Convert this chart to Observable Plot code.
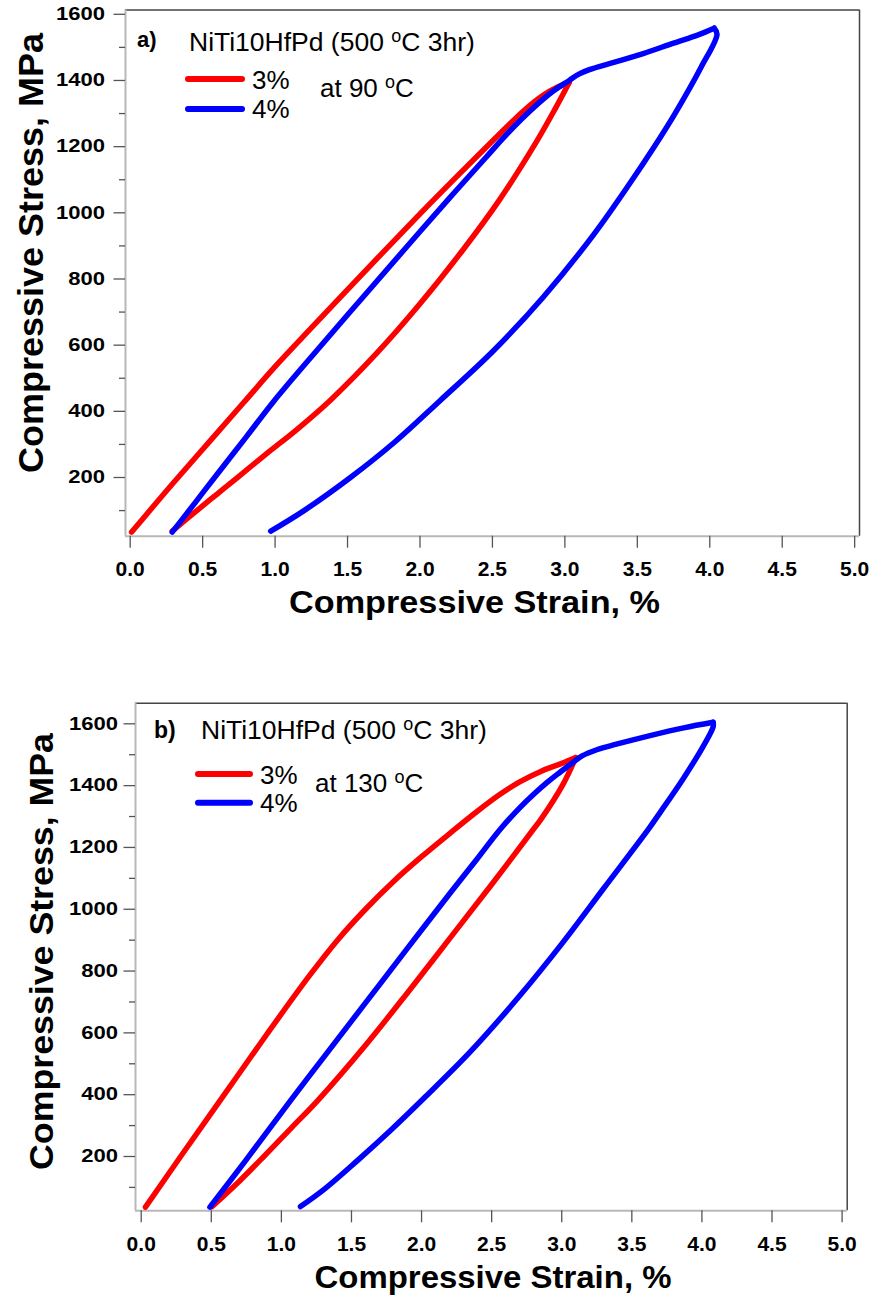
<!DOCTYPE html>
<html>
<head>
<meta charset="utf-8">
<script src="https://cdn.jsdelivr.net/npm/d3@7"></script>
<script src="https://cdn.jsdelivr.net/npm/@observablehq/plot@0.6"></script>
<style>
  body { margin: 0; background: #fff; }
  svg { display: block; }
</style>
</head>
<body>
<div id="chart"></div>
<script>
// ---- axis ticks ----
const strainTicks = [0, 0.5, 1, 1.5, 2, 2.5, 3, 3.5, 4, 4.5, 5];
const stressTicks = [200, 400, 600, 800, 1000, 1200, 1400, 1600];
const stressMinorTicks = [100, 300, 500, 700, 900, 1100, 1300, 1500];

const seriesNames = ["3%", "4%"];
const seriesColors = ["#ff0000", "#0000ff"];

// ---- a) tested at 90 °C : [strain %, stress MPa] ----
const load90_3 = [[0.01,35],[0.15,108],[0.3,185],[0.55,310],[0.78,425],[1.0,535],[1.25,652],[1.5,768],[1.75,883],[2.0,997],[2.25,1108],[2.45,1195],[2.6,1260],[2.72,1310],[2.85,1355],[2.95,1380],[3.03,1394]];
const unload90_3 = [[3.03,1394],[2.93,1312],[2.8,1212],[2.55,1040],[2.3,890],[2.0,725],[1.7,575],[1.38,433],[1.15,345],[0.95,275],[0.74,200],[0.6,150],[0.46,100],[0.29,38]];
const load90_4 = [[0.29,35],[0.45,125],[0.6,210],[0.8,322],[0.99,430],[1.3,590],[1.6,742],[1.9,893],[2.2,1043],[2.45,1165],[2.6,1238],[2.78,1316],[2.92,1368],[3.03,1400],[3.1,1420],[3.2,1437],[3.35,1456],[3.54,1481],[3.75,1513],[3.92,1538],[4.03,1558]];
const unload90_4 = [[4.03,1558],[4.05,1540],[3.94,1440],[3.76,1300],[3.61,1195],[3.45,1090],[3.2,935],[2.85,745],[2.5,580],[2.14,433],[1.82,305],[1.52,200],[1.2,100],[0.97,38]];

// ---- b) tested at 130 °C ----
const load130_3 = [[0.03,36],[0.3,212],[0.6,405],[0.9,598],[1.2,785],[1.4,900],[1.6,1000],[1.8,1090],[2.0,1170],[2.2,1245],[2.4,1318],[2.56,1372],[2.7,1412],[2.85,1446],[3.0,1472],[3.1,1491]];
const unload130_3 = [[3.1,1491],[3.01,1405],[2.85,1290],[2.79,1254],[2.5,1080],[2.2,905],[1.9,730],[1.6,560],[1.267,385],[1.07,292],[0.875,200],[0.7,120],[0.506,38]];
const load130_4 = [[0.49,36],[0.75,190],[1.065,381],[1.3,520],[1.6,697],[1.9,874],[2.2,1050],[2.4,1165],[2.56,1258],[2.7,1328],[2.8,1372],[2.9,1412],[2.99,1444],[3.08,1475],[3.145,1496],[3.25,1516],[3.39,1534],[3.63,1562],[3.87,1587],[4.08,1605]];
const unload130_4 = [[4.08,1605],[4.08,1590],[4.01,1528],[3.87,1425],[3.7,1312],[3.62,1260],[3.3,1068],[3.0,888],[2.7,720],[2.35,540],[2.02,390],[1.78,285],[1.54,186],[1.3,92],[1.136,38]];

const FONT = "'Liberation Sans', Arial, Helvetica, sans-serif";

function rows(points, series, segment) {
  return points.map(([strain, stress], i) => ({strain, stress, series, segment, i}));
}

function baseText(g, x, y, size, weight) {
  return g.append("text")
    .attr("x", x).attr("y", y)
    .attr("text-anchor", "start")
    .attr("font-family", FONT).attr("font-size", size)
    .attr("font-weight", weight).attr("fill", "#000");
}

// text with a raised small "o" (degree sign as typeset in the figure)
function supText(g, x, y, size, before, sup, after, weight = "normal") {
  const t = baseText(g, x, y, size, weight);
  t.append("tspan").text(before);
  t.append("tspan").attr("font-size", 18).attr("dy", -9).text(sup);
  t.append("tspan").attr("dy", 9).text(after);
  return t;
}

function plainText(g, x, y, size, str, weight = "normal") {
  return baseText(g, x, y, size, weight).text(str);
}

function panel(cfg) {
  const data = [
    ...rows(cfg.load3, "3%", "l3"), ...rows(cfg.unload3, "3%", "u3"),
    ...rows(cfg.load4, "4%", "l4"), ...rows(cfg.unload4, "4%", "u4")
  ];
  const [x0, x1] = cfg.xDomain;
  const [y0, y1] = cfg.yDomain;
  const svg = Plot.plot({
    width: 873,
    height: cfg.height,
    marginTop: cfg.m.top, marginRight: cfg.m.right,
    marginBottom: cfg.m.bottom, marginLeft: cfg.m.left,
    style: {fontFamily: FONT, background: "#fff", overflow: "visible"},
    x: {domain: cfg.xDomain},
    y: {domain: cfg.yDomain},
    color: {domain: seriesNames, range: seriesColors},
    marks: [
      Plot.ruleY([y1], {stroke: "#454545", strokeWidth: 1.5}),
      Plot.ruleX([x1], {stroke: "#454545", strokeWidth: 1.5}),
      Plot.ruleY([y0], {stroke: "#b8b8b8", strokeWidth: 2}),
      Plot.ruleX([x0], {stroke: "#b8b8b8", strokeWidth: 2}),
      Plot.axisX({ticks: strainTicks, tickSize: 12, tickPadding: cfg.xPad,
        tickFormat: d3.format(".1f"), fontSize: 21, fontWeight: "bold",
        stroke: "#555", strokeWidth: 1.3, label: null}),
      Plot.axisY({ticks: stressTicks, tickSize: 11.5, tickPadding: cfg.yPad,
        tickFormat: d3.format("d"), fontSize: 18, fontWeight: "bold",
        stroke: "#555", strokeWidth: 1.3, label: null}),
      Plot.axisY({ticks: stressMinorTicks, tickSize: 6, tickFormat: () => "",
        stroke: "#555", strokeWidth: 1.3, label: null}),
      Plot.line(data, {x: "strain", y: "stress", z: "segment", stroke: "series",
        strokeWidth: 5.5, strokeLinecap: "round", strokeLinejoin: "round",
        curve: "catmull-rom"})
    ]
  });

  const g = d3.select(svg).append("g");
  // panel tag and alloy / heat treatment
  plainText(g, cfg.tag.x, cfg.tag.y, cfg.tag.size, cfg.tag.text, "bold");
  supText(g, cfg.title.x, cfg.title.y, 26.5, "NiTi10HfPd (500 ", "o", "C 3hr)");
  // legend swatches
  const L = cfg.legend;
  [[L.y3, seriesColors[0]], [L.y4, seriesColors[1]]].forEach(([y, c]) => {
    g.append("line").attr("x1", L.x1).attr("x2", L.x2).attr("y1", y).attr("y2", y)
      .attr("stroke", c).attr("stroke-width", 6).attr("stroke-linecap", "round");
  });
  plainText(g, L.tx, L.y3 + 9.5, 26, "3%");
  plainText(g, L.tx, L.y4 + 9, 26, "4%");
  supText(g, L.tempX, L.tempY, 26, "at " + cfg.temp + " ", "o", "C");

  // axis titles
  g.append("text")
    .attr("x", cfg.xTitle.x).attr("y", cfg.xTitle.y)
    .attr("text-anchor", "middle")
    .attr("font-family", FONT).attr("font-size", cfg.xTitle.size).attr("font-weight", "bold")
    .attr("textLength", cfg.xTitle.len).attr("lengthAdjust", "spacingAndGlyphs")
    .text("Compressive Strain, %");
  g.append("text")
    .attr("transform", `translate(${cfg.yTitle.x},${cfg.yTitle.y}) rotate(-90)`)
    .attr("text-anchor", "middle")
    .attr("font-family", FONT).attr("font-size", cfg.yTitle.size).attr("font-weight", "bold")
    .attr("textLength", cfg.yTitle.len).attr("lengthAdjust", "spacingAndGlyphs")
    .text("Compressive Stress, MPa");
  return svg;
}

const panelA = panel({
  height: 650,
  m: {top: 9.5, right: 14, bottom: 114.3, left: 125},
  xDomain: [-0.0324, 5.0334], yDomain: [22.6, 1613],
  xPad: 13, yPad: 9,
  load3: load90_3, unload3: unload90_3, load4: load90_4, unload4: unload90_4,
  tag: {text: "a)", x: 137, y: 47, size: 22},
  title: {x: 189, y: 51},
  legend: {x1: 188, x2: 242, y3: 79, y4: 109, tx: 252, tempX: 320, tempY: 97},
  temp: "90",
  xTitle: {x: 474.5, y: 613, size: 32, len: 371},
  yTitle: {x: 42.5, y: 253, size: 35, len: 440}
});

const panelB = panel({
  height: 648,
  m: {top: 52.7, right: 26.3, bottom: 87.7, left: 135},
  xDomain: [-0.0407, 5.0364], yDomain: [24.3, 1666.7],
  xPad: 13, yPad: 6,
  load3: load130_3, unload3: unload130_3, load4: load130_4, unload4: unload130_4,
  tag: {text: "b)", x: 154, y: 88, size: 23},
  title: {x: 201, y: 89.3},
  legend: {x1: 198, x2: 250, y3: 124, y4: 152.7, tx: 260, tempX: 315, tempY: 141.7},
  temp: "130",
  xTitle: {x: 493, y: 638, size: 31, len: 357},
  yTitle: {x: 52.5, y: 301.5, size: 34, len: 437}
});

const root = document.getElementById("chart");
root.append(panelA, panelB);

// widen the stress tick labels to the lettering used on these axes
document.querySelectorAll('g[aria-label="y-axis tick label"] text').forEach(t => {
  const s = t.textContent.trim();
  if (s) {
    t.setAttribute("textLength", (12.25 * s.length).toFixed(1));
    t.setAttribute("lengthAdjust", "spacingAndGlyphs");
  }
});
</script>
</body>
</html>
